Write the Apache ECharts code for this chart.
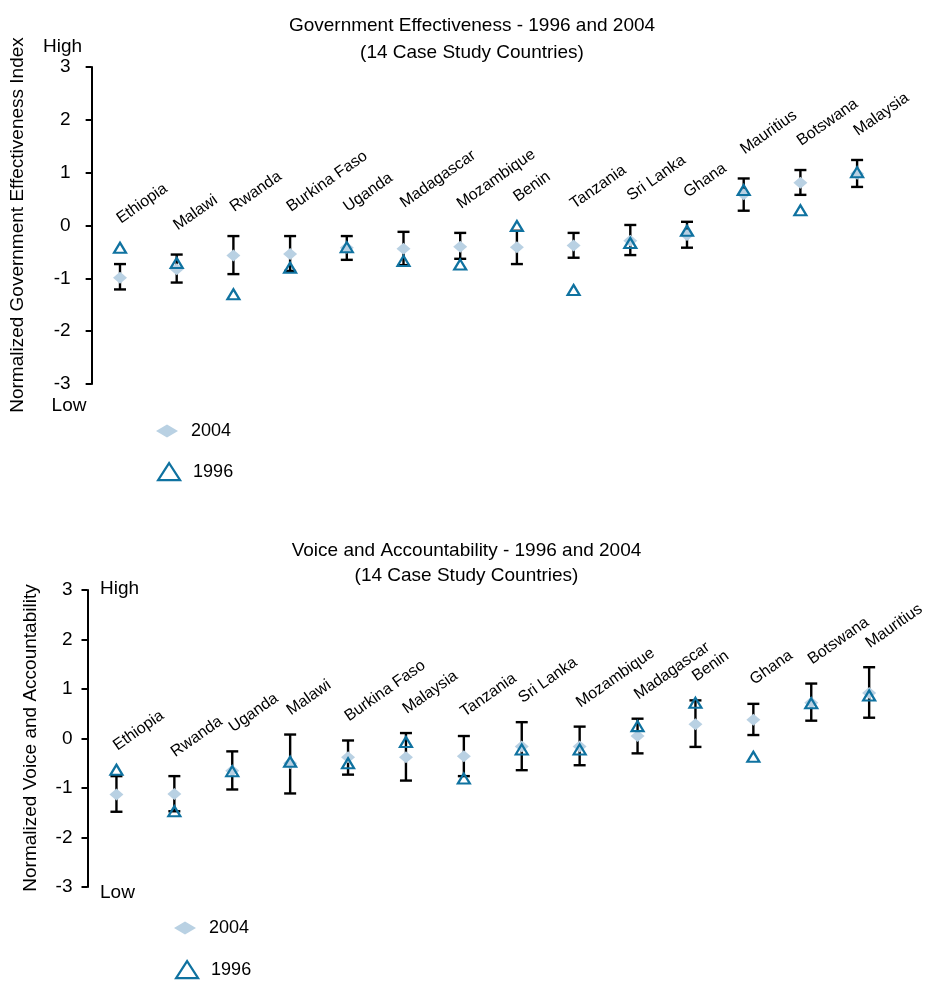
<!DOCTYPE html>
<html>
<head>
<meta charset="utf-8">
<title>Government Effectiveness and Voice and Accountability, 1996 and 2004</title>
<script src="https://cdn.jsdelivr.net/npm/echarts@6/dist/echarts.min.js"></script>
<style>
  html, body { margin: 0; padding: 0; background: #fff; }
  #chart { width: 931px; height: 982px; }
</style>
</head>
<body>
<div id="chart"></div>
<script>
// Government Effectiveness (normalized index), ordered by 2004 score
const geCountries = ['Ethiopia', 'Malawi', 'Rwanda', 'Burkina Faso', 'Uganda', 'Madagascar', 'Mozambique',
  'Benin', 'Tanzania', 'Sri Lanka', 'Ghana', 'Mauritius', 'Botswana', 'Malaysia'];
const ge2004 = [-0.99, -0.83, -0.57, -0.54, -0.42, -0.44, -0.40, -0.41, -0.38, -0.29, -0.18, 0.59, 0.81, 0.98];
const ge1996 = [-0.42, -0.71, -1.30, -0.80, -0.41, -0.67, -0.74, -0.01, -1.22, -0.33, -0.10, 0.67, 0.29, 1.01];
const geLow  = [-1.21, -1.08, -0.92, -0.86, -0.65, -0.75, -0.63, -0.73, -0.61, -0.56, -0.42, 0.28, 0.58, 0.73];
const geHigh = [-0.73, -0.55, -0.20, -0.20, -0.20, -0.12, -0.14, -0.10, -0.14, 0.01, 0.07, 0.89, 1.05, 1.24];

// Voice and Accountability (normalized index), ordered by 2004 score
const vaCountries = ['Ethiopia', 'Rwanda', 'Uganda', 'Malawi', 'Burkina Faso', 'Malaysia', 'Tanzania',
  'Sri Lanka', 'Mozambique', 'Madagascar', 'Benin', 'Ghana', 'Botswana', 'Mauritius'];
const va2004 = [-1.13, -1.12, -0.65, -0.50, -0.38, -0.38, -0.36, -0.16, -0.16, 0.05, 0.29, 0.38, 0.72, 0.92];
const va1996 = [-0.63, -1.47, -0.66, -0.47, -0.50, -0.07, -0.81, -0.22, -0.22, 0.25, 0.72, -0.37, 0.71, 0.87];
const vaLow  = [-1.48, -1.47, -1.03, -1.11, -0.73, -0.85, -0.76, -0.64, -0.54, -0.30, -0.17, 0.07, 0.36, 0.42];
const vaHigh = [-0.76, -0.76, -0.26, 0.08, -0.04, 0.11, 0.05, 0.33, 0.24, 0.40, 0.77, 0.70, 1.11, 1.44];

const yTicks = [-3, -2, -1, 0, 1, 2, 3];
const seriesNames = ['2004', '1996'];

const FONT = '"Liberation Sans", Arial, sans-serif';
const C2004 = '#b9d1e3';
const C1996 = '#0f72a0';
const DEG = Math.PI / 180;

const chart = echarts.init(document.getElementById('chart'), null, { renderer: 'canvas' });

// Vertical error bar with short horizontal caps, from low to high
function errorBarSeries(idx, low, high) {
  return {
    type: 'custom',
    xAxisIndex: idx, yAxisIndex: idx,
    z: 2, silent: true,
    encode: { x: 0, y: [1, 2] },
    data: low.map((v, i) => [i, v, high[i]]),
    renderItem: (params, api) => {
      const a = api.coord([api.value(0), api.value(2)]);
      const b = api.coord([api.value(0), api.value(1)]);
      const w = 6;
      const st = { stroke: '#000', lineWidth: 2.4 };
      return {
        type: 'group',
        children: [
          { type: 'line', shape: { x1: a[0], y1: a[1], x2: b[0], y2: b[1] }, style: st },
          { type: 'line', shape: { x1: a[0] - w, y1: a[1], x2: a[0] + w, y2: a[1] }, style: st },
          { type: 'line', shape: { x1: b[0] - w, y1: b[1], x2: b[0] + w, y2: b[1] }, style: st }
        ]
      };
    }
  };
}

// Slanted country name placed just above the highest mark of each column
function countryLabelSeries(idx, names, high, v1996, gap) {
  return {
    type: 'custom',
    xAxisIndex: idx, yAxisIndex: idx,
    z: 5, silent: true,
    encode: { x: 0, y: 1 },
    data: high.map((v, i) => [i, Math.max(v, v1996[i])]),
    renderItem: (params, api) => {
      const p = api.coord([api.value(0), api.value(1)]);
      return {
        type: 'text',
        x: p[0] + 3,
        y: p[1] - gap,
        rotation: 35 * DEG,
        style: {
          text: names[params.dataIndex],
          fontSize: 16, fontFamily: FONT, fill: '#000',
          align: 'left', verticalAlign: 'bottom'
        }
      };
    }
  };
}

function markSeries(idx, v2004, v1996) {
  return [
    {
      name: seriesNames[0], type: 'scatter', xAxisIndex: idx, yAxisIndex: idx, z: 3,
      symbol: 'diamond', symbolSize: [14, 12],
      itemStyle: { color: C2004, opacity: 1 },
      data: v2004
    },
    {
      name: seriesNames[1], type: 'scatter', xAxisIndex: idx, yAxisIndex: idx, z: 4,
      symbol: 'triangle', symbolSize: [12, 10],
      itemStyle: { color: 'rgba(0,0,0,0)', borderColor: C1996, borderWidth: 2.2, opacity: 1 },
      data: v1996
    }
  ];
}

function xAxisFor(idx, names) {
  return {
    type: 'category', gridIndex: idx, data: names, boundaryGap: true,
    axisLine: { show: false }, axisTick: { show: false }, axisLabel: { show: false },
    splitLine: { show: false }
  };
}

function yAxisFor(idx, margin) {
  return {
    type: 'value', gridIndex: idx, min: yTicks[0], max: yTicks[yTicks.length - 1], interval: 1,
    axisLine: { show: true, lineStyle: { color: '#000', width: 2 } },
    axisTick: { show: true, inside: false, length: 6, lineStyle: { color: '#000', width: 2 } },
    axisLabel: { color: '#000', fontSize: 19, fontFamily: FONT, margin: margin,
      formatter: v => String(v) },
    splitLine: { show: false }
  };
}

function txt(x, y, text, size, align, rotation) {
  return {
    type: 'text', x: x, y: y, silent: true, rotation: rotation || 0,
    style: { text: text, fontSize: size, fontFamily: FONT, fill: '#000',
      align: align || 'center', verticalAlign: 'middle' }
  };
}

// One legend entry per component so each icon gets its own size and place
function legendItem(i, left, top, iconH) {
  const entry = i === 0
    ? { name: seriesNames[0], icon: 'diamond', itemStyle: { color: C2004, borderWidth: 0 } }
    : { name: seriesNames[1], icon: 'triangle',
        itemStyle: { color: 'rgba(0,0,0,0)', borderColor: C1996, borderWidth: 2.2 } };
  return {
    orient: 'vertical', left: left, top: top, padding: 0,
    itemWidth: 22, itemHeight: iconH, selectedMode: false,
    textStyle: { fontSize: 18, fontFamily: FONT, color: '#000', padding: [0, 0, 0, 8] },
    data: [entry]
  };
}

chart.setOption({
  animation: false,
  backgroundColor: '#fff',
  grid: [
    { left: 91.65, top: 67, width: 793.8, height: 317 },
    { left: 87.5, top: 590, width: 810.6, height: 297 }
  ],
  xAxis: [xAxisFor(0, geCountries), xAxisFor(1, vaCountries)],
  yAxis: [yAxisFor(0, 21), yAxisFor(1, 15)],
  legend: [
    legendItem(0, 156, 422, 13),
    legendItem(1, 157, 462, 17),
    legendItem(0, 174, 919, 13),
    legendItem(1, 175, 960, 17)
  ],
  series: [
    errorBarSeries(0, geLow, geHigh),
    ...markSeries(0, ge2004, ge1996),
    countryLabelSeries(0, geCountries, geHigh, ge1996, 21),
    errorBarSeries(1, vaLow, vaHigh),
    ...markSeries(1, va2004, va1996),
    countryLabelSeries(1, vaCountries, vaHigh, va1996, 16)
  ],
  graphic: [
    txt(472, 26, 'Government Effectiveness - 1996 and 2004', 19),
    txt(472, 53, '(14 Case Study Countries)', 19),
    txt(18, 225, 'Normalized Government Effectiveness Index', 19, 'center', 90 * DEG),
    txt(62.5, 47, 'High', 19),
    txt(69, 406, 'Low', 19),
    txt(466.5, 551, 'Voice and Accountability - 1996 and 2004', 19),
    txt(466.5, 576, '(14 Case Study Countries)', 19),
    txt(31, 738, 'Normalized Voice and Accountability', 19, 'center', 90 * DEG),
    txt(100, 589, 'High', 19, 'left'),
    txt(100, 893, 'Low', 19, 'left')
  ]
});
</script>
</body>
</html>
